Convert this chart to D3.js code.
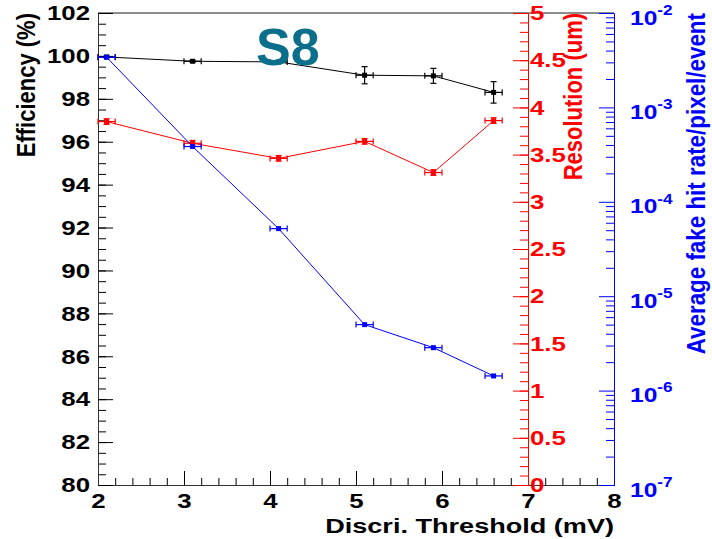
<!DOCTYPE html>
<html>
<head>
<meta charset="utf-8">
<script src="https://cdn.jsdelivr.net/npm/d3@7"></script>
<style>
  body { margin: 0; background: #fff; }
  svg { display: block; font-family: "Liberation Sans", Arial, sans-serif; }
  .tick text { font-weight: bold; }
</style>
</head>
<body>
<script>
// threshold points (mV) and their horizontal errors
var threshold = [2.1, 3.1, 4.1, 5.1, 5.9, 6.6];
var thresholdErr = [0.1, 0.1, 0.1, 0.1, 0.1, 0.1];

// efficiency (%)
var efficiency = [99.95, 99.75, 99.72, 99.1, 99.07, 98.3];
var efficiencyErr = [0.05, 0.05, 0.05, 0.4, 0.35, 0.5];

// resolution (um)
var resolution = [3.85, 3.62, 3.46, 3.64, 3.31, 3.86];
var resolutionErr = [0.03, 0.03, 0.03, 0.03, 0.03, 0.03];

// average fake hit rate per pixel per event
var fakeRate = [3.4e-3, 3.85e-4, 5.2e-5, 5.0e-6, 2.85e-6, 1.43e-6];

var effTicks = [80, 82, 84, 86, 88, 90, 92, 94, 96, 98, 100, 102];
var resTicks = [0, 0.5, 1, 1.5, 2, 2.5, 3, 3.5, 4, 4.5, 5];
var rateTicks = [1e-7, 1e-6, 1e-5, 1e-4, 1e-3, 1e-2];
var xTicks = [2, 3, 4, 5, 6, 7, 8];

var W = 712, H = 539;
var margin = {top: 13, right: 98, bottom: 54, left: 98},
    width = W - margin.left - margin.right,
    height = H - margin.top - margin.bottom;

// the original canvas text is a bit wider than Arial
var WIDE = 1.23;

function widen(sel, k) {
  sel.each(function() {
    var t = d3.select(this);
    var tx = +t.attr("x") || 0, ty = +t.attr("y") || 0;
    t.attr("x", 0).attr("y", 0)
      .attr("transform", "translate(" + tx + "," + ty + ") scale(" + k + ",1)");
  });
}

var svg = d3.select("body").append("svg")
  .attr("width", W)
  .attr("height", H);

svg.append("rect").attr("width", W).attr("height", H).attr("fill", "#fff");

var g = svg.append("g")
  .attr("transform", "translate(" + margin.left + "," + margin.top + ")");

// scales
var x = d3.scaleLinear().domain([2, 8]).range([0, width]);
var yEff = d3.scaleLinear().domain([80, 102]).range([height, 0]);
var yRes = d3.scaleLinear().domain([0, 5]).range([height, 0]);
var yRate = d3.scaleLog().domain([1e-7, 1e-2]).range([height, 0]);

var resX = x(7);

// top frame line
g.append("line")
  .attr("x1", 0).attr("x2", width)
  .attr("y1", 0).attr("y2", 0)
  .attr("stroke", "#666").attr("stroke-width", 1.5);

// x axis, ticks pointing up
var xMinor = d3.range(2, 8.001, 0.2);
g.append("g")
  .attr("transform", "translate(0," + height + ")")
  .call(d3.axisBottom(x).tickValues(xMinor).tickSize(-7).tickSizeOuter(0).tickFormat(""));
var xAx = g.append("g")
  .attr("transform", "translate(0," + height + ")")
  .call(d3.axisBottom(x).tickValues(xTicks).tickSize(-14).tickSizeOuter(0).tickPadding(8).tickFormat(d3.format("d")));
xAx.selectAll("text").attr("font-size", 21).attr("fill", "#000").call(widen, WIDE);

// left axis (efficiency)
var effMinor = d3.range(80, 102.001, 0.5);
g.append("g")
  .call(d3.axisLeft(yEff).tickValues(effMinor).tickSize(-8).tickSizeOuter(0).tickFormat(""));
var effAx = g.append("g")
  .call(d3.axisLeft(yEff).tickValues(effTicks).tickSize(-15).tickSizeOuter(0).tickPadding(8).tickFormat(d3.format("d")));
effAx.selectAll("text").attr("font-size", 21).attr("fill", "#000").call(widen, WIDE);
g.selectAll(".domain").attr("stroke", "#333");

// red axis (resolution) at x = 7
var resMinor = d3.range(0, 5.001, 0.1);
var resMinorAx = g.append("g")
  .attr("transform", "translate(" + resX + ",0)")
  .call(d3.axisRight(yRes).tickValues(resMinor).tickSize(-8).tickSizeOuter(0).tickFormat(""));
var resAx = g.append("g")
  .attr("transform", "translate(" + resX + ",0)")
  .call(d3.axisRight(yRes).tickValues(resTicks).tickSize(-15).tickSizeOuter(0).tickPadding(2).tickFormat(d3.format("")));
resAx.selectAll("text").attr("font-size", 21).attr("fill", "#ff0000").call(widen, WIDE);
resMinorAx.selectAll("line, path").attr("stroke", "#ff0000");
resAx.selectAll("line, path").attr("stroke", "#ff0000");

// blue axis (fake hit rate), log scale at right edge
var rateMinor = [];
rateTicks.slice(0, -1).forEach(function(d) {
  for (var k = 2; k <= 9; k++) rateMinor.push(d * k);
});
var rateMinorAx = g.append("g")
  .attr("transform", "translate(" + width + ",0)")
  .call(d3.axisRight(yRate).tickValues(rateMinor).tickSize(-8).tickSizeOuter(0).tickFormat(""));
var rateAx = g.append("g")
  .attr("transform", "translate(" + width + ",0)")
  .call(d3.axisRight(yRate).tickValues(rateTicks).tickSize(-15).tickSizeOuter(0).tickPadding(16).tickFormat(""));
rateMinorAx.selectAll("line, path").attr("stroke", "#0000ff");
rateAx.selectAll("line, path").attr("stroke", "#0000ff");
rateAx.selectAll(".tick").each(function(d) {
  var t = d3.select(this).append("text")
    .attr("x", 16).attr("y", 4).attr("dy", "0.35em")
    .attr("fill", "#0000ff").attr("font-size", 20)
    .attr("text-anchor", "start");
  t.append("tspan").text("10");
  t.append("tspan").attr("font-size", 14).attr("dy", "-0.7em")
    .text(Math.round(Math.log10(d)));
  t.call(widen, WIDE);
});

// series drawing helper
function drawSeries(yScale, vals, errs, color) {
  var pts = threshold.map(function(t, i) {
    return {x: t, xe: thresholdErr[i], y: vals[i], ye: errs ? errs[i] : 0};
  });
  var line = d3.line()
    .x(function(d) { return x(d.x); })
    .y(function(d) { return yScale(d.y); });
  g.append("path")
    .datum(pts)
    .attr("fill", "none")
    .attr("stroke", color)
    .attr("stroke-width", 1)
    .attr("d", line);

  var grp = g.append("g").attr("stroke", color).attr("stroke-width", 1.2);
  pts.forEach(function(d) {
    var cx = x(d.x), cy = yScale(d.y);
    var x0 = x(d.x - d.xe), x1 = x(d.x + d.xe);
    grp.append("line").attr("x1", x0).attr("x2", x1).attr("y1", cy).attr("y2", cy);
    grp.append("line").attr("x1", x0).attr("x2", x0).attr("y1", cy - 3).attr("y2", cy + 3);
    grp.append("line").attr("x1", x1).attr("x2", x1).attr("y1", cy - 3).attr("y2", cy + 3);
    if (d.ye) {
      var y0 = yScale(d.y - d.ye), y1 = yScale(d.y + d.ye);
      grp.append("line").attr("x1", cx).attr("x2", cx).attr("y1", y0).attr("y2", y1);
      grp.append("line").attr("x1", cx - 3).attr("x2", cx + 3).attr("y1", y0).attr("y2", y0);
      grp.append("line").attr("x1", cx - 3).attr("x2", cx + 3).attr("y1", y1).attr("y2", y1);
    }
    g.append("rect")
      .attr("x", cx - 2.5).attr("y", cy - 2.5)
      .attr("width", 5).attr("height", 5)
      .attr("fill", color);
  });
}

drawSeries(yEff, efficiency, efficiencyErr, "#000");
drawSeries(yRes, resolution, resolutionErr, "#ff0000");
drawSeries(yRate, fakeRate, null, "#0000ff");

// axis titles (rotated ones get their glyph height stretched)
svg.append("text")
  .attr("transform", "translate(35," + margin.top + ") rotate(-90) scale(1,1.14)")
  .attr("text-anchor", "end")
  .attr("font-size", 22).attr("font-weight", "bold")
  .attr("fill", "#000")
  .text("Efficiency (%)");

svg.append("text")
  .attr("transform", "translate(582," + margin.top + ") rotate(-90) scale(1,1.2)")
  .attr("text-anchor", "end")
  .attr("font-size", 22).attr("font-weight", "bold")
  .attr("fill", "#ff0000")
  .text("Resolution (um)");

svg.append("text")
  .attr("transform", "translate(705," + margin.top + ") rotate(-90) scale(1,1.12)")
  .attr("text-anchor", "end")
  .attr("font-size", 22.4).attr("font-weight", "bold")
  .attr("fill", "#0000ff")
  .text("Average fake hit rate/pixel/event");

svg.append("text")
  .attr("transform", "translate(" + (margin.left + width) + ",533) scale(1.29,1)")
  .attr("text-anchor", "end")
  .attr("font-size", 21).attr("font-weight", "bold")
  .attr("fill", "#000")
  .text("Discri. Threshold (mV)");

// sensor label
svg.append("text")
  .attr("x", 256).attr("y", 65)
  .attr("font-size", 52).attr("font-weight", "bold")
  .attr("fill", "#0b6f8b")
  .text("S8");
</script>
</body>
</html>
